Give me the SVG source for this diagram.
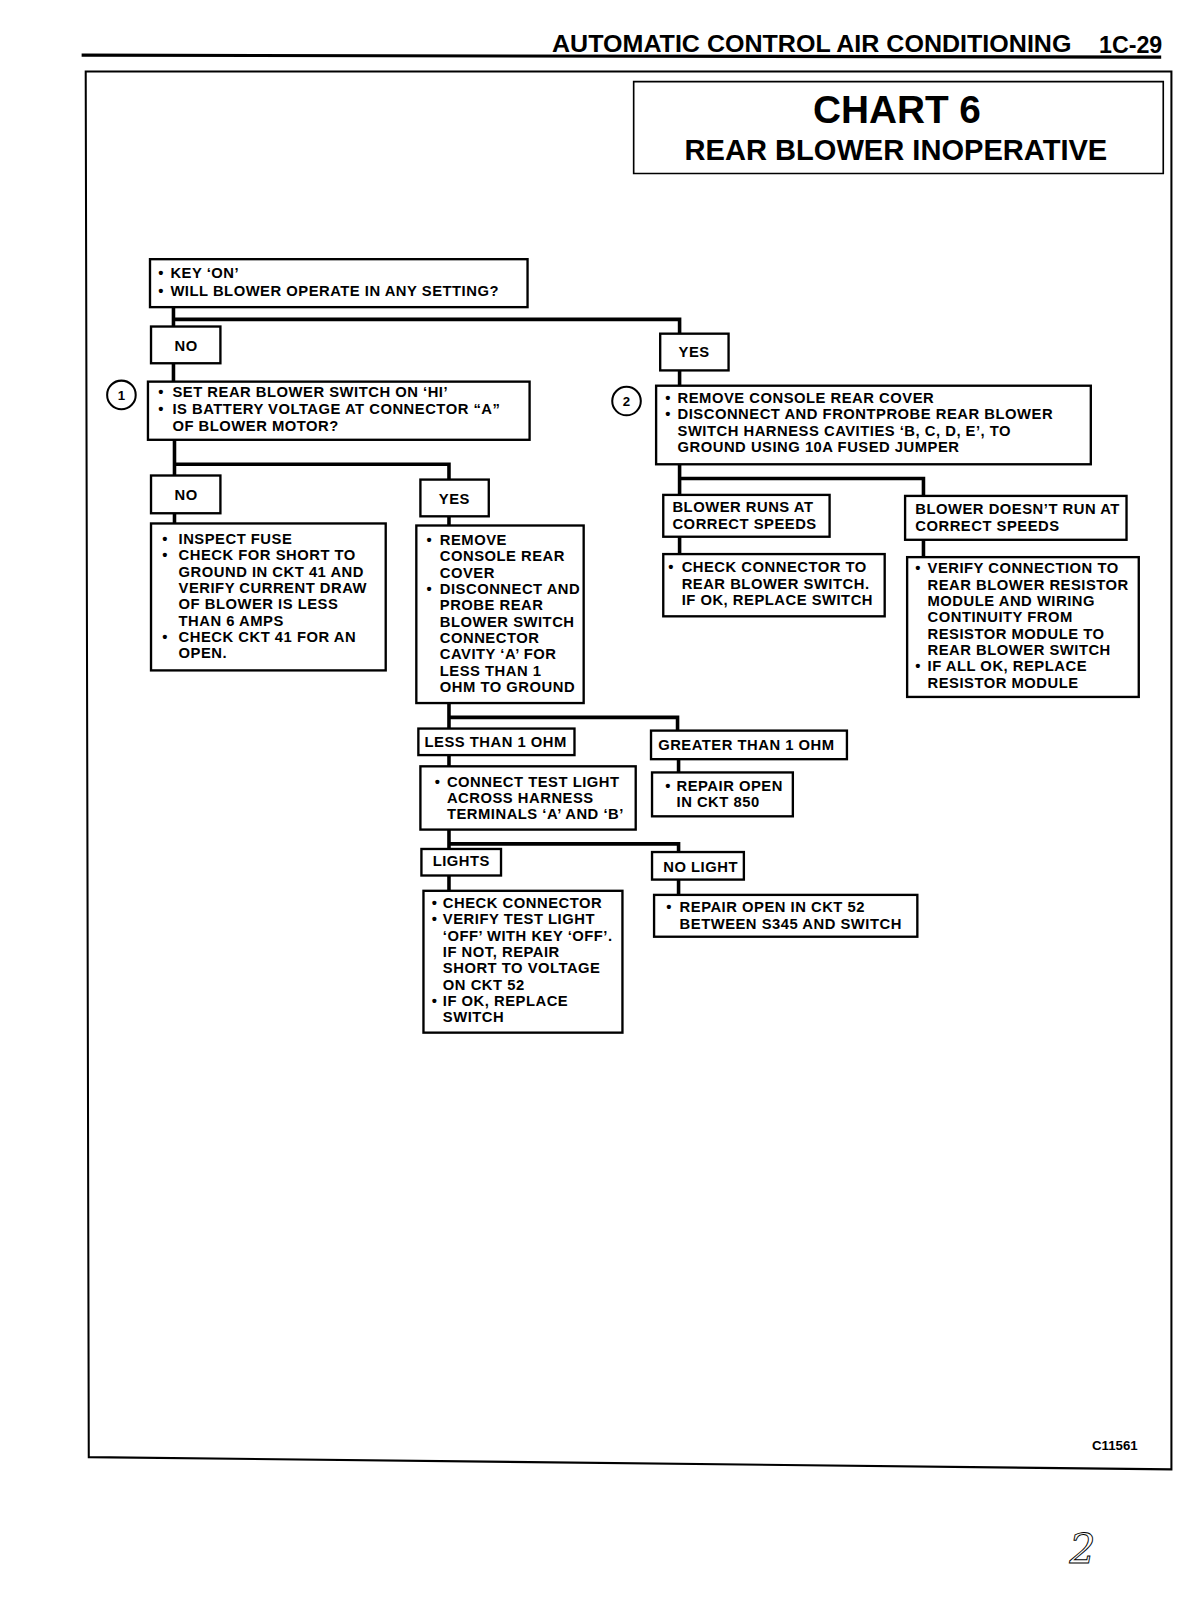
<svg xmlns="http://www.w3.org/2000/svg" width="1200" height="1600" viewBox="0 0 1200 1600">
<style>
.bg{fill:#fff}
.box{fill:#fff;stroke:#000;stroke-width:2.3}
.t{font-family:"Liberation Sans",Arial,"Helvetica",sans-serif;font-weight:bold;font-size:14.5px;letter-spacing:0.5px;fill:#000}
.conn{stroke:#000;stroke-width:3.5;fill:none;stroke-linecap:square}
.hdr{font-family:"Liberation Sans",Arial,sans-serif;font-weight:bold;fill:#000}
.circ{fill:#fff;stroke:#000;stroke-width:2}
.num{font-family:"Liberation Sans",Arial,sans-serif;font-weight:bold;font-size:13px;fill:#000;text-anchor:middle}
</style>
<rect class="bg" x="0" y="0" width="1200" height="1600"/>
<g transform="scale(1.0204)">
<!-- page header and frame -->
<g id="page">
<line x1="80" y1="54" x2="1138" y2="56" stroke="#000" stroke-width="3"/>
<text class="hdr" x="541" y="51" font-size="23" textLength="509" lengthAdjust="spacingAndGlyphs">AUTOMATIC CONTROL AIR CONDITIONING</text>
<text class="hdr" x="1077" y="52" font-size="23" textLength="62" lengthAdjust="spacingAndGlyphs">1C-29</text>
<path d="M84,70 H1148 V1440 L87,1428 Z" fill="none" stroke="#000" stroke-width="2"/>
<text class="hdr" x="1115" y="1421" font-size="13" text-anchor="end">C11561</text>
<text x="1048" y="1532" font-family="DejaVu Serif, serif" font-style="italic" font-size="40" fill="none" stroke="#000" stroke-width="0.9">2</text>
</g>
<g id="title">
<path d="M621,80 H1140 V170 H621 Z" fill="#fff" stroke="#000" stroke-width="1.6"/>
<text class="hdr" x="879" y="121" font-size="38" text-anchor="middle">CHART 6</text>
<text class="hdr" x="878" y="157" font-size="28.5" text-anchor="middle">REAR BLOWER INOPERATIVE</text>
</g>

<!-- connectors -->
<g id="connectors">
<path class="conn" d="M170,301 V320 M170,313 H666 V327"/>
<path class="conn" d="M170,356 V374"/>
<path class="conn" d="M666,363 V378"/>
<path class="conn" d="M171,431 V466 M171,455 H440 V470"/>
<path class="conn" d="M171,503 V513"/>
<path class="conn" d="M440,506 V515"/>
<path class="conn" d="M666,455 V485 M666,469 H905 V486"/>
<path class="conn" d="M666,526 V543"/>
<path class="conn" d="M905,529 V546"/>
<path class="conn" d="M440,689 V714 M440,703 H664 V716"/>
<path class="conn" d="M440,740 V751"/>
<path class="conn" d="M665,744 V757"/>
<path class="conn" d="M440,813 V832 M440,827 H665 V835"/>
<path class="conn" d="M440,858 V873"/>
<path class="conn" d="M665,862 V877"/>
</g>

<!-- nodes -->
<g id="start">
<rect class="box" x="147" y="254" width="370" height="47"/>
<text class="t" x="155" y="272">•<tspan x="167">KEY ‘ON’</tspan></text>
<text class="t" x="155" y="290">•<tspan x="167">WILL BLOWER OPERATE IN ANY SETTING?</tspan></text>
</g>
<g id="no1">
<rect class="box" x="148" y="320" width="68" height="36"/>
<text class="t" x="171" y="344">NO</text>
</g>
<g id="yes1">
<rect class="box" x="647" y="327" width="67" height="36"/>
<text class="t" x="665" y="350">YES</text>
</g>
<g id="step1">
<circle class="circ" cx="119" cy="387" r="14"/>
<text class="num" x="119" y="392">1</text>
<rect class="box" x="145" y="374" width="374" height="57"/>
<text class="t" x="155" y="389">•<tspan x="169">SET REAR BLOWER SWITCH ON ‘HI’</tspan></text>
<text class="t" x="155" y="406">•<tspan x="169">IS BATTERY VOLTAGE AT CONNECTOR “A”</tspan></text>
<text class="t" x="169" y="422">OF BLOWER MOTOR?</text>
</g>
<g id="step2">
<circle class="circ" cx="614" cy="393" r="14"/>
<text class="num" x="614" y="398">2</text>
<rect class="box" x="643" y="378" width="426" height="77"/>
<text class="t" x="652" y="395">•<tspan x="664">REMOVE CONSOLE REAR COVER</tspan></text>
<text class="t" x="652" y="411">•<tspan x="664">DISCONNECT AND FRONTPROBE REAR BLOWER</tspan></text>
<text class="t" x="664" y="427">SWITCH HARNESS CAVITIES ‘B, C, D, E’, TO</text>
<text class="t" x="664" y="443">GROUND USING 10A FUSED JUMPER</text>
</g>
<g id="no2">
<rect class="box" x="148" y="466" width="68" height="37"/>
<text class="t" x="171" y="490">NO</text>
</g>
<g id="yes2">
<rect class="box" x="412" y="470" width="67" height="36"/>
<text class="t" x="430" y="494">YES</text>
</g>
<g id="no2result">
<rect class="box" x="148" y="513" width="230" height="144"/>
<text class="t" x="159" y="533">•<tspan x="175">INSPECT FUSE</tspan></text>
<text class="t" x="159" y="549">•<tspan x="175">CHECK FOR SHORT TO</tspan></text>
<text class="t" x="175" y="565">GROUND IN CKT 41 AND</text>
<text class="t" x="175" y="581">VERIFY CURRENT DRAW</text>
<text class="t" x="175" y="597">OF BLOWER IS LESS</text>
<text class="t" x="175" y="613">THAN 6 AMPS</text>
<text class="t" x="159" y="629">•<tspan x="175">CHECK CKT 41 FOR AN</tspan></text>
<text class="t" x="175" y="645">OPEN.</text>
</g>
<g id="yes2result">
<rect class="box" x="408" y="515" width="164" height="174"/>
<text class="t" x="418" y="534">•<tspan x="431">REMOVE</tspan></text>
<text class="t" x="431" y="550">CONSOLE REAR</text>
<text class="t" x="431" y="566">COVER</text>
<text class="t" x="418" y="582">•<tspan x="431">DISCONNECT AND</tspan></text>
<text class="t" x="431" y="598">PROBE REAR</text>
<text class="t" x="431" y="614">BLOWER SWITCH</text>
<text class="t" x="431" y="630">CONNECTOR</text>
<text class="t" x="431" y="646">CAVITY ‘A’ FOR</text>
<text class="t" x="431" y="662">LESS THAN 1</text>
<text class="t" x="431" y="678">OHM TO GROUND</text>
</g>
<g id="runs">
<rect class="box" x="650" y="485" width="163" height="41"/>
<text class="t" x="659" y="502">BLOWER RUNS AT</text>
<text class="t" x="659" y="518">CORRECT SPEEDS</text>
</g>
<g id="notruns">
<rect class="box" x="887" y="486" width="217" height="43"/>
<text class="t" x="897" y="504">BLOWER DOESN’T RUN AT</text>
<text class="t" x="897" y="520">CORRECT SPEEDS</text>
</g>
<g id="runsresult">
<rect class="box" x="650" y="543" width="217" height="61"/>
<text class="t" x="655" y="561">•<tspan x="668">CHECK CONNECTOR TO</tspan></text>
<text class="t" x="668" y="577">REAR BLOWER SWITCH.</text>
<text class="t" x="668" y="593">IF OK, REPLACE SWITCH</text>
</g>
<g id="notrunsresult">
<rect class="box" x="889" y="546" width="227" height="137"/>
<text class="t" x="897" y="562">•<tspan x="909">VERIFY CONNECTION TO</tspan></text>
<text class="t" x="909" y="578">REAR BLOWER RESISTOR</text>
<text class="t" x="909" y="594">MODULE AND WIRING</text>
<text class="t" x="909" y="610">CONTINUITY FROM</text>
<text class="t" x="909" y="626">RESISTOR MODULE TO</text>
<text class="t" x="909" y="642">REAR BLOWER SWITCH</text>
<text class="t" x="897" y="658">•<tspan x="909">IF ALL OK, REPLACE</tspan></text>
<text class="t" x="909" y="674">RESISTOR MODULE</text>
</g>
<g id="lessthan">
<rect class="box" x="410" y="714" width="153" height="26"/>
<text class="t" x="416" y="732">LESS THAN 1 OHM</text>
</g>
<g id="greaterthan">
<rect class="box" x="638" y="716" width="192" height="28"/>
<text class="t" x="645" y="735">GREATER THAN 1 OHM</text>
</g>
<g id="repair850">
<rect class="box" x="639" y="757" width="138" height="43"/>
<text class="t" x="652" y="775">•<tspan x="663">REPAIR OPEN</tspan></text>
<text class="t" x="663" y="791">IN CKT 850</text>
</g>
<g id="testlight">
<rect class="box" x="412" y="751" width="211" height="62"/>
<text class="t" x="426" y="771">•<tspan x="438">CONNECT TEST LIGHT</tspan></text>
<text class="t" x="438" y="787">ACROSS HARNESS</text>
<text class="t" x="438" y="803">TERMINALS ‘A’ AND ‘B’</text>
</g>
<g id="lights">
<rect class="box" x="413" y="832" width="78" height="26"/>
<text class="t" x="424" y="849">LIGHTS</text>
</g>
<g id="nolight">
<rect class="box" x="639" y="835" width="90" height="27"/>
<text class="t" x="650" y="855">NO LIGHT</text>
</g>
<g id="lightsresult">
<rect class="box" x="415" y="873" width="195" height="139"/>
<text class="t" x="423" y="890">•<tspan x="434">CHECK CONNECTOR</tspan></text>
<text class="t" x="423" y="906">•<tspan x="434">VERIFY TEST LIGHT</tspan></text>
<text class="t" x="434" y="922">‘OFF’ WITH KEY ‘OFF’.</text>
<text class="t" x="434" y="938">IF NOT, REPAIR</text>
<text class="t" x="434" y="954">SHORT TO VOLTAGE</text>
<text class="t" x="434" y="970">ON CKT 52</text>
<text class="t" x="423" y="986">•<tspan x="434">IF OK, REPLACE</tspan></text>
<text class="t" x="434" y="1002">SWITCH</text>
</g>
<g id="nolightresult">
<rect class="box" x="641" y="877" width="258" height="41"/>
<text class="t" x="653" y="894">•<tspan x="666">REPAIR OPEN IN CKT 52</tspan></text>
<text class="t" x="666" y="910">BETWEEN S345 AND SWITCH</text>
</g>
</g>
</svg>
